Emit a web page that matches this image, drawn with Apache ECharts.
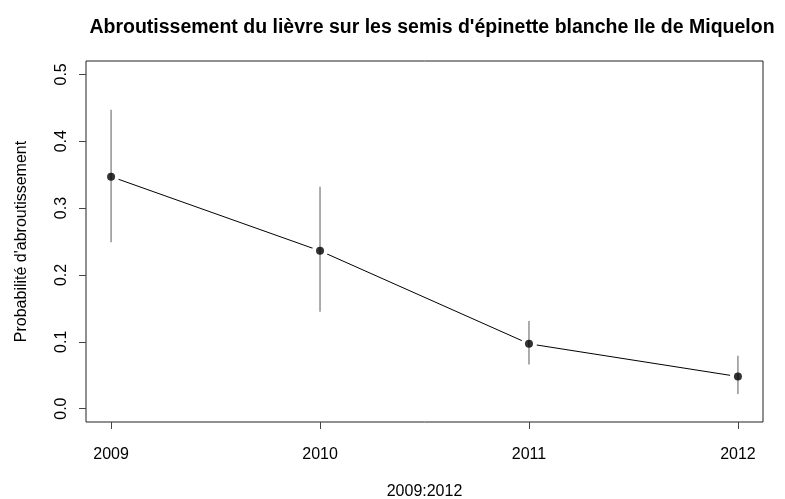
<!DOCTYPE html>
<html><head><meta charset="utf-8">
<script src="https://cdn.jsdelivr.net/npm/echarts@6/dist/echarts.min.js"></script>
<style>html,body{margin:0;padding:0;background:#fff}#c{width:785px;height:499px}</style>
</head><body><div id="c"></div>
<script>
const years = [2009, 2010, 2011, 2012];
const prob = [0.347, 0.236, 0.097, 0.048];
const lower = [0.249, 0.145, 0.066, 0.022];
const upper = [0.447, 0.332, 0.131, 0.079];
const yTicks = [0, 0.1, 0.2, 0.3, 0.4, 0.5];
const xTicks = [2009, 2010, 2011, 2012];
const titleText = "Abroutissement du lièvre sur les semis d'épinette blanche Ile de Miquelon";
const xName = "2009:2012";
const yName = "Probabilité d'abroutissement";

const font = "Liberation Sans, Arial, sans-serif";
const chart = echarts.init(document.getElementById('c'), null, {renderer: 'canvas'});
const pts = years.map((y, i) => [y, prob[i]]);
const bars = years.map((y, i) => [y, lower[i], upper[i]]);
chart.setOption({
  animation: false,
  title: {text: titleText, left: 427, top: 13, textAlign: 'center',
    textStyle: {fontFamily: font, fontWeight: 'bold', fontSize: 19.5, color: '#000'}},
  grid: {left: 86, right: 22, top: 61, bottom: 77, show: true, borderColor: '#222', borderWidth: 1, outerBoundsMode: 'none', containLabel: false},
  xAxis: {type: 'value', min: 2008.88, max: 2012.12, position: 'bottom',
    name: xName, nameLocation: 'middle', nameGap: 62,
    nameTextStyle: {fontFamily: font, fontSize: 16, color: '#000'},
    splitLine: {show: false},
    axisLine: {show: false, onZero: false},
    axisTick: {show: true, inside: false, length: 7, customValues: xTicks, lineStyle: {color: '#444'}},
    axisLabel: {customValues: xTicks, margin: 25, fontFamily: font, fontSize: 16, color: '#000', formatter: v => String(Math.round(v))}
  },
  yAxis: {type: 'value', min: -0.02, max: 0.52, position: 'left',
    name: yName, nameLocation: 'middle', nameGap: 56, nameRotate: 90,
    nameTextStyle: {fontFamily: font, fontSize: 16, color: '#000'},
    splitLine: {show: false},
    axisLine: {show: false, onZero: false},
    axisTick: {show: true, inside: false, length: 7, customValues: yTicks, lineStyle: {color: '#444'}},
    axisLabel: {customValues: yTicks, margin: 16, rotate: 90, fontFamily: font, fontSize: 16, color: '#000',
      formatter: v => v.toFixed(1)}
  },
  series: [
    {type: 'line', data: pts, z: 1, symbol: 'circle', symbolSize: 16,
      itemStyle: {color: '#fff', borderWidth: 0},
      lineStyle: {color: '#000', width: 1}, silent: true},
    {type: 'custom', z: 2, data: bars,
      renderItem: (params, api) => {
        const p1 = api.coord([api.value(0), api.value(1)]);
        const p2 = api.coord([api.value(0), api.value(2)]);
        return {type: 'line', shape: {x1: p1[0], y1: p1[1], x2: p2[0], y2: p2[1]},
          style: {stroke: '#808080', lineWidth: 1.3}};
      }},
    {type: 'scatter', z: 3, data: pts, symbol: 'circle', symbolSize: 8,
      itemStyle: {color: '#000'}}
  ]
});
</script></body></html>
